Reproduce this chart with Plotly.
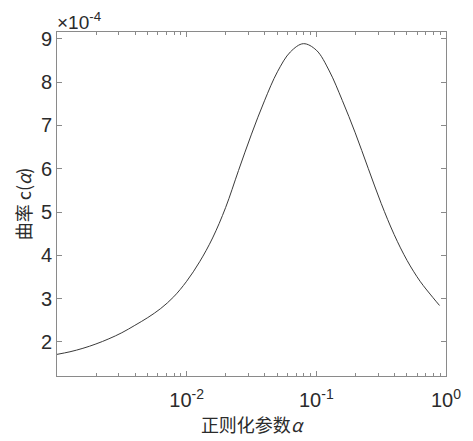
import plotly.graph_objects as go

# regularization parameter alpha (log10) and curvature (units of 1e-4)
log_alpha = [-3.0, -2.9, -2.8, -2.7, -2.6, -2.5, -2.4, -2.3, -2.2, -2.1, -2.0,
             -1.9, -1.8, -1.7, -1.6, -1.5, -1.4, -1.3, -1.2, -1.1, -1.0,
             -0.9, -0.8, -0.7, -0.6, -0.5, -0.4, -0.3, -0.2, -0.1, -0.05]
curv_e4 = [1.71, 1.77, 1.85, 1.95, 2.07, 2.21, 2.38, 2.56, 2.77, 3.04, 3.40,
           3.85, 4.40, 5.10, 5.96, 6.80, 7.57, 8.24, 8.70, 8.89, 8.74,
           8.26, 7.58, 6.83, 6.01, 5.20, 4.48, 3.88, 3.40, 3.02, 2.84]
alpha = [10 ** v for v in log_alpha]

x_tickvals = [0.01, 0.1, 1]
x_ticktext = ["10<sup>-2</sup>", "10<sup>-1</sup>", "10<sup>0</sup>"]
y_tickvals = [2, 3, 4, 5, 6, 7, 8, 9]

axis_col = "#8a8a8a"
text_col = "#2b2b2b"
tick_font = dict(family="Liberation Sans, Arial, sans-serif", size=20, color=text_col)
cjk = "Noto Sans CJK SC, sans-serif"

fig = go.Figure()
fig.add_trace(go.Scatter(x=alpha, y=curv_e4, mode="lines", line_shape="spline",
                         line=dict(color="#3a3a3a", width=1, smoothing=1.0), showlegend=False))

fig.update_layout(
    width=473, height=441,
    margin=dict(l=57, r=18, t=32, b=65),
    paper_bgcolor="white", plot_bgcolor="white",
    xaxis=dict(type="log", range=[-3, 0], tickvals=x_tickvals, ticktext=x_ticktext,
               ticks="inside", ticklen=5, tickcolor=axis_col, showline=True,
               linecolor=axis_col, linewidth=1, mirror="ticks", showgrid=False,
               zeroline=False, tickfont=tick_font, ticklabelstandoff=6,
               minor=dict(ticks="inside", ticklen=3, tickcolor=axis_col, dtick="D1",
                          showgrid=False),
               title=dict(text="正则化参数<i>α</i>", font=dict(family=cjk, size=18, color=text_col),
                          standoff=4)),
    yaxis=dict(range=[1.21, 9.16], tickvals=y_tickvals, ticks="inside", ticklen=5,
               tickcolor=axis_col, showline=True, linecolor=axis_col, linewidth=1,
               mirror="ticks", showgrid=False, zeroline=False, tickfont=tick_font,
               title=dict(text="曲率 c(<i>α</i>)", font=dict(family=cjk, size=18, color=text_col),
                          standoff=4)),
)

fig.add_annotation(xref="paper", yref="paper", x=0, y=1, xanchor="left", yanchor="bottom",
                   text="×10<sup>-4</sup>", showarrow=False,
                   font=dict(family="Liberation Sans, Arial, sans-serif", size=19, color=text_col),
                   xshift=-2, yshift=-3)

fig.write_html("out.html")
